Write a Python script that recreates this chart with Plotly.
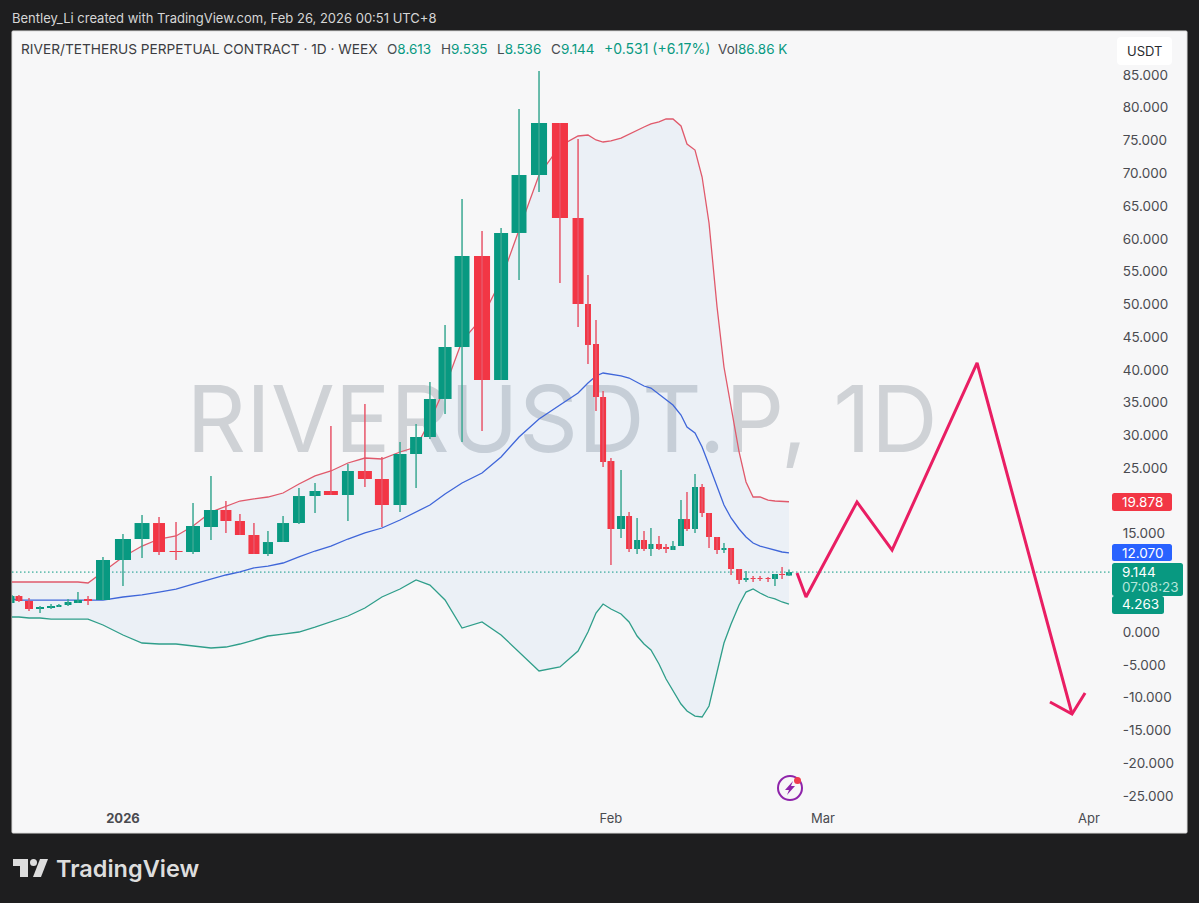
# RIVERUSDT.P daily chart, rebuilt with plain Plotly traces
import plotly.graph_objects as go

# ── DATA ─────────────────────────────────────────────────────
# days since Jan 1 as they sit on the (uneven) time axis of the screenshot
day_pos = [-7.05, -6.61, -5.97, -5.27, -4.57, -4.07, -3.49, -2.86, -2.22, -1.27,
           0.00, 1.21, 2.29, 3.37, 4.45, 5.59, 6.54, 7.43, 8.32, 9.21,
           10.17, 11.18, 12.20, 13.21, 14.29, 15.37, 16.45, 17.60, 18.62, 19.50,
           20.46, 21.54, 22.81, 24.02, 25.16, 26.43, 27.76, 28.91, 29.54, 30.05,
           30.50, 31.00, 31.64, 32.15, 32.66, 33.10, 33.54, 34.05, 34.50, 34.94,
           35.45, 35.83, 36.34, 36.79, 37.23, 37.74, 38.18, 38.63, 39.14, 39.58,
           40.03, 40.47, 40.98, 41.42, 41.87, 42.31]
candle_span = [0.32, 0.44, 0.51, 0.51, 0.51, 0.32, 0.44, 0.51, 0.51, 0.89,
               1.02, 0.95, 0.76, 0.83, 0.89, 0.89, 0.70, 0.64, 0.70, 0.64,
               0.76, 0.76, 0.70, 0.89, 0.76, 0.89, 0.89, 0.83, 0.76, 0.76,
               0.83, 0.95, 1.02, 0.89, 0.95, 1.02, 1.02, 0.70, 0.38, 0.38,
               0.38, 0.44, 0.51, 0.38, 0.38, 0.38, 0.32, 0.38, 0.38, 0.32,
               0.38, 0.38, 0.38, 0.32, 0.38, 0.38, 0.32, 0.38, 0.38, 0.32,
               0.32, 0.32, 0.32, 0.38, 0.38, 0.38]
opens = [4.43, 5.49, 4.73, 3.51, 3.66, 3.82, 4.12, 4.43, 5.04, 4.88,
         10.99, 14.19, 16.63, 12.36, 12.21, 16.02, 18.62, 16.94, 14.80, 11.90,
         13.73, 16.63, 20.75, 21.52, 20.91, 24.57, 23.35, 19.38, 27.16, 29.76,
         35.56, 43.49, 57.38, 38.46, 60.89, 69.74, 77.67, 63.18, 50.05, 43.95,
         35.86, 26.09, 15.72, 17.70, 12.67, 14.04, 12.67, 13.43, 12.82, 12.51,
         13.12, 17.24, 15.72, 22.13, 18.16, 14.50, 12.51, 12.82, 9.61, 7.94,
         8.24, 8.24, 8.24, 8.09, 8.85, 8.613]
highs = [5.65, 5.65, 5.19, 3.97, 4.27, 4.27, 5.04, 6.10, 5.49, 11.45,
         14.95, 17.85, 17.55, 16.79, 19.69, 23.81, 19.99, 18.01, 16.63, 15.41,
         17.70, 21.97, 22.74, 31.44, 25.64, 34.79, 26.71, 28.99, 31.74, 38.15,
         46.85, 66.08, 61.19, 61.65, 79.81, 85.61, 77.67, 75.23, 54.48, 47.61,
         36.78, 26.55, 24.72, 18.31, 17.40, 15.41, 15.87, 14.65, 13.43, 13.89,
         20.14, 21.36, 24.11, 22.58, 18.16, 14.50, 13.58, 12.82, 9.61, 9.31,
         8.55, 8.55, 8.39, 8.85, 9.92, 9.535]
lows = [4.43, 4.58, 3.20, 2.90, 3.51, 3.82, 3.97, 4.43, 4.12, 4.88,
        7.02, 11.29, 11.75, 10.99, 11.90, 14.04, 15.11, 14.80, 11.90, 11.60,
        13.73, 16.48, 18.16, 20.91, 16.94, 22.13, 16.02, 18.31, 21.97, 29.45,
        33.27, 28.99, 30.67, 38.46, 53.72, 67.14, 53.26, 46.54, 40.90, 33.72,
        25.18, 10.22, 14.34, 12.21, 11.90, 12.36, 11.60, 12.51, 12.06, 12.51,
        13.12, 15.41, 15.11, 17.55, 12.82, 11.90, 12.06, 8.70, 7.32, 7.63,
        7.63, 7.78, 7.63, 7.02, 8.09, 8.536]
closes = [5.49, 4.73, 3.51, 3.82, 3.97, 4.12, 4.58, 4.88, 4.88, 10.99,
          14.19, 16.63, 12.21, 12.21, 16.18, 18.62, 16.94, 14.80, 11.90, 13.73,
          16.63, 20.75, 21.52, 20.91, 24.57, 23.35, 19.38, 27.16, 29.76, 35.56,
          43.49, 57.38, 38.46, 60.89, 69.74, 77.67, 63.18, 50.05, 43.80, 35.86,
          25.94, 15.72, 17.70, 12.67, 14.04, 12.67, 13.43, 12.67, 12.67, 13.12,
          17.24, 15.72, 22.13, 18.16, 14.50, 12.51, 12.82, 9.61, 7.94, 8.24,
          8.09, 8.09, 8.09, 8.85, 8.70, 9.144]

# Bollinger style band, one value per candle
band_upper = [7.63, 7.63, 7.63, 7.63, 7.63, 7.63, 7.63, 7.63, 7.48, 9.16,
              11.45, 13.12, 14.19, 14.65, 16.18, 18.31, 19.23, 19.99, 20.30, 20.60,
              21.21, 22.58, 23.81, 24.57, 25.79, 26.55, 26.40, 27.47, 28.23, 32.20,
              37.39, 44.41, 47.92, 53.72, 61.35, 69.74, 74.16, 75.69, 75.84, 75.08,
              74.77, 74.93, 75.38, 76.00, 76.61, 77.06, 77.52, 77.83, 78.28, 78.28,
              77.22, 74.47, 73.55, 69.43, 62.41, 49.60, 40.44, 34.49, 27.47, 22.89,
              20.60, 20.60, 20.14, 19.99, 19.99, 19.878]
band_mid = [5.04, 4.88, 4.88, 4.88, 4.88, 4.88, 4.88, 4.88, 4.88, 4.88,
            5.34, 5.65, 6.10, 6.56, 7.32, 8.09, 8.70, 9.16, 9.77, 10.07,
            10.53, 11.45, 12.36, 13.12, 14.19, 15.11, 15.87, 17.09, 18.31, 19.38,
            21.06, 22.74, 24.26, 26.71, 29.76, 32.50, 34.64, 36.47, 38.00, 39.07,
            39.52, 39.37, 39.07, 38.76, 38.15, 37.54, 37.23, 36.32, 35.40, 34.64,
            33.11, 31.28, 30.37, 28.23, 25.48, 22.28, 19.38, 17.40, 15.72, 14.50,
            13.58, 13.12, 12.82, 12.51, 12.21, 12.070]
band_lower = [2.29, 2.29, 2.14, 2.14, 1.98, 1.98, 1.98, 1.98, 1.98, 1.07,
              -0.46, -1.68, -1.83, -1.83, -2.14, -2.44, -2.29, -1.83, -1.22, -0.61,
              -0.31, 0.00, 0.76, 1.53, 2.44, 3.66, 5.34, 6.56, 7.94, 7.17,
              4.88, 0.61, 1.53, -0.46, -3.05, -5.95, -5.34, -2.90, 0.00, 2.90,
              4.27, 3.51, 2.75, 1.53, -0.61, -1.83, -2.75, -4.88, -7.17, -9.00,
              -10.99, -12.06, -12.82, -12.97, -11.29, -6.10, -1.68, 1.22, 4.12, 6.10,
              6.56, 5.95, 5.34, 5.04, 4.58, 4.263]

# hand drawn projection and its arrow head
path_days = [42.82, 43.39, 46.63, 48.86, 54.26, 60.29, None, 58.89, 60.29, 61.12]
path_prices = [9.00, 5.34, 19.84, 12.51, 41.05, -12.51, None, -10.68, -12.51, -9.31]

price_ticks = [85, 80, 75, 70, 65, 60, 55, 50, 45, 40, 35, 30, 25, 15, 0, -5, -10, -15, -20, -25]
price_labels = ["85.000", "80.000", "75.000", "70.000", "65.000", "60.000", "55.000",
                "50.000", "45.000", "40.000", "35.000", "30.000", "25.000", "15.000",
                "0.000", "-5.000", "-10.000", "-15.000", "-20.000", "-25.000"]
month_ticks = [0.00, 31.00, 44.47, 61.37]
month_labels = ["<b>2026</b>", "Feb", "Mar", "Apr"]

# ── STYLE ────────────────────────────────────────────────────
W, H = 1199, 903
FONT = "Inter, 'Liberation Sans', sans-serif"
DARK = "#1e1e1f"
PANEL = "#f7f7f8"
GREEN = "#089981"
RED = "#f23645"
TEXT = "#4a4b50"
X_RANGE = [-7.05, 62.83]
Y_RANGE = [-26.55, 91.71]


def fx(px):
    return px / W


def fy(px):
    return 1 - px / H


def round_rect(x0, y0, x1, y1, color, r=2.5, line=None):
    # pixel box with small rounded corners, in paper coordinates
    path = (f"M{fx(x0 + r)},{fy(y0)} L{fx(x1 - r)},{fy(y0)} Q{fx(x1)},{fy(y0)} {fx(x1)},{fy(y0 + r)} "
            f"L{fx(x1)},{fy(y1 - r)} Q{fx(x1)},{fy(y1)} {fx(x1 - r)},{fy(y1)} "
            f"L{fx(x0 + r)},{fy(y1)} Q{fx(x0)},{fy(y1)} {fx(x0)},{fy(y1 - r)} "
            f"L{fx(x0)},{fy(y0 + r)} Q{fx(x0)},{fy(y0)} {fx(x0 + r)},{fy(y0)} Z")
    return dict(type="path", path=path, xref="paper", yref="paper", fillcolor=color,
                line=dict(width=1 if line else 0, color=line or color))


def poly(points, color):
    path = "M" + " L".join(f"{fx(x)},{fy(y)}" for x, y in points) + " Z"
    return dict(type="path", path=path, xref="paper", yref="paper", fillcolor=color, line=dict(width=0))


def label(x, y, text, color=TEXT, size=13.5, anchor="left", yref="paper", weight=None):
    # annotations carry about 2px of padding, take it back for left aligned text
    x = x - 2 if anchor == "left" else x
    return dict(x=fx(x), y=y if yref == "y" else fy(y), xref="paper", yref=yref, text=text, showarrow=False,
                xanchor=anchor, yanchor="middle", font=dict(family=FONT, size=size, color=color, weight=weight))


# ── TRACES ───────────────────────────────────────────────────
fig = go.Figure()

# watermark sits under everything, so it has to be a text trace
fig.add_trace(go.Scatter(x=[27.9], y=[31.0], mode="text", text=["RIVERUSDT.P, 1D"],
                         textposition="middle center",
                         textfont=dict(family=FONT, size=92.5, color="#cfd2d6")))

fig.add_trace(go.Scatter(x=day_pos, y=band_lower, mode="lines",
                         line=dict(color="#2f9e8a", width=1.3)))
fig.add_trace(go.Scatter(x=day_pos, y=band_upper, mode="lines", fill="tonexty",
                         fillcolor="rgba(97,160,235,0.08)",
                         line=dict(color="#e0596b", width=1.3)))
fig.add_trace(go.Scatter(x=day_pos, y=band_mid, mode="lines",
                         line=dict(color="#3f66d9", width=1.3)))

# candles live on an overlaid axis pair so they stay above the band lines
for color, wick_color, is_up in [(GREEN, "#3aa892", True), (RED, "#e8566a", False)]:
    idx = [i for i in range(len(day_pos)) if (closes[i] >= opens[i]) == is_up]
    wick_x, wick_y = [], []
    for i in idx:
        wick_x += [day_pos[i], day_pos[i], None]
        wick_y += [lows[i], highs[i], None]
    fig.add_trace(go.Scatter(x=wick_x, y=wick_y, mode="lines", xaxis="x2", yaxis="y2",
                             line=dict(color=wick_color, width=1.5)))
    fig.add_trace(go.Bar(x=[day_pos[i] for i in idx],
                         base=[min(opens[i], closes[i]) for i in idx],
                         y=[abs(closes[i] - opens[i]) for i in idx],
                         width=[candle_span[i] for i in idx],
                         marker=dict(color=color, line=dict(width=0)),
                         xaxis="x2", yaxis="y2"))

fig.add_trace(go.Scatter(x=path_days, y=path_prices, mode="lines", xaxis="x2", yaxis="y2",
                         line=dict(color="#e91e63", width=3)))

# ── LAYOUT ───────────────────────────────────────────────────
shapes = [
    round_rect(12, 31, 1187, 833, PANEL, r=1, line="#dcdcdc"),
    dict(type="line", xref="paper", yref="y", x0=fx(12), x1=fx(1112), y0=closes[-1], y1=closes[-1],
         line=dict(color=GREEN, width=1, dash="1.5px,2.5px"), layer="below"),
]
shapes[0]["layer"] = "below"
shapes += [
    round_rect(1117, 37, 1172, 65, "#ffffff", r=4),
    round_rect(1112, 493, 1172, 511, RED),
    round_rect(1112, 544, 1172, 561, "#2962ff"),
    round_rect(1112, 596, 1164, 614, GREEN),
    round_rect(1112, 563, 1183, 596, GREEN),
    # bolt badge
    dict(type="circle", xref="paper", yref="paper", x0=fx(778), x1=fx(802), y0=fy(800), y1=fy(776),
         line=dict(color="#8e24aa", width=2), fillcolor="rgba(0,0,0,0)"),
    poly([(793, 781), (785, 790), (789, 790), (787, 795), (795, 786), (791, 786)], "#8e24aa"),
    dict(type="circle", xref="paper", yref="paper", x0=fx(794), x1=fx(801), y0=fy(784), y1=fy(777),
         line=dict(width=0), fillcolor="#ef3b4e"),
    # TradingView mark
    poly([(13, 859), (28, 859), (28, 877), (20, 877), (20, 866), (13, 866)], "#dddddd"),
    dict(type="circle", xref="paper", yref="paper", x0=fx(30), x1=fx(37), y0=fy(866), y1=fy(859),
         line=dict(width=0), fillcolor="#dddddd"),
    poly([(40, 859), (48, 859), (41, 877), (33, 877)], "#dddddd"),
]

annotations = [
    label(12, 18, "Bentley_Li created with TradingView.com, Feb 26, 2026 00:51 UTC+8", "#d6d6d6", 13),
    label(21, 49, "RIVER/TETHERUS PERPETUAL CONTRACT · 1D · WEEX", "#3c3d42", 13.7),
    label(387, 49, f"O<span style='color:{GREEN}'>8.613</span>"),
    label(441, 49, f"H<span style='color:{GREEN}'>9.535</span>"),
    label(497, 49, f"L<span style='color:{GREEN}'>8.536</span>"),
    label(551, 49, f"C<span style='color:{GREEN}'>9.144</span>"),
    label(604, 49, "+0.531 (+6.17%)", GREEN, 14),
    label(718, 49, f"Vol<span style='color:{GREEN}'>86.86 K</span>"),
    label(1144.5, 51, "USDT", "#2a2b30", 13, "center"),
    label(1122, band_upper[-1], f"{band_upper[-1]:.3f}", "#ffffff", yref="y"),
    label(1122, band_mid[-1], f"{band_mid[-1]:.3f}", "#ffffff", yref="y"),
    label(1122, closes[-1], f"{closes[-1]:.3f}", "#ffffff", yref="y"),
    label(1122, 587, "07:08:23", "#b5e6da"),
    label(1122, band_lower[-1], f"{band_lower[-1]:.3f}", "#ffffff", yref="y"),
    label(56, 868, "TradingView", "#dddddd", 23.5, weight=600),
]

x_common = dict(range=X_RANGE, domain=[fx(12), fx(1112)], showgrid=False, zeroline=False, showline=False)
y_common = dict(range=Y_RANGE, domain=[fy(806), fy(31)], showgrid=False, zeroline=False, showline=False)

fig.update_layout(
    width=W, height=H,
    margin=dict(l=0, r=0, t=0, b=0),
    paper_bgcolor=DARK,
    plot_bgcolor="rgba(0,0,0,0)",
    showlegend=False,
    barmode="overlay",
    hovermode=False,
    shapes=shapes,
    annotations=annotations,
    xaxis=dict(**x_common, tickmode="array", tickvals=month_ticks, ticktext=month_labels,
               ticks="outside", ticklen=0, tickcolor="rgba(0,0,0,0)",
               tickfont=dict(family=FONT, size=13, color=TEXT)),
    yaxis=dict(**y_common, side="right", tickmode="array", tickvals=price_ticks, ticktext=price_labels,
               ticks="outside", ticklen=7, tickcolor="rgba(0,0,0,0)",
               tickfont=dict(family=FONT, size=13.5, color=TEXT)),
    xaxis2=dict(**x_common, overlaying="x", visible=False),
    yaxis2=dict(**y_common, overlaying="y", visible=False),
)

# ── EXPORT ───────────────────────────────────────────────────
fig.write_html("out.html", config=dict(displayModeBar=False),
               post_script=f"document.body.style.margin='0';document.body.style.background='{DARK}';")
